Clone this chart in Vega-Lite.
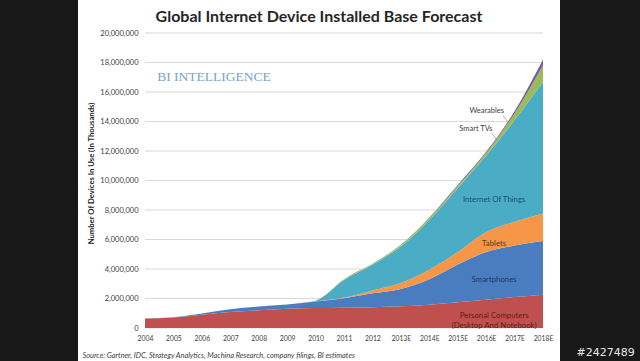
{
  "$schema": "https://vega.github.io/schema/vega-lite/v6.json",
  "width": 482,
  "height": 361,
  "autosize": {"type": "none"},
  "padding": {"left": 78, "right": 80, "top": 0, "bottom": 0},
  "background": "#181818",
  "config": {
    "view": {"fill": "white", "stroke": null},
    "font": "Lato",
    "axis": {"labelOverlap": false, "labelFlush": false}
  },
  "title": {
    "text": "Global Internet Device Installed Base Forecast",
    "font": "Lato",
    "fontSize": 16,
    "fontWeight": "bold",
    "color": "#262626",
    "anchor": "middle",
    "frame": "group",
    "offset": -25
  },
  "datasets": {
    "devices": [
      {"year": 2004, "Personal Computers": 650000, "Smartphones": 0, "Tablets": 0, "Internet Of Things": 0, "Smart TVs": 0, "Wearables": 0},
      {"year": 2005, "Personal Computers": 720000, "Smartphones": 10000, "Tablets": 0, "Internet Of Things": 0, "Smart TVs": 0, "Wearables": 0},
      {"year": 2006, "Personal Computers": 900000, "Smartphones": 80000, "Tablets": 0, "Internet Of Things": 0, "Smart TVs": 0, "Wearables": 0},
      {"year": 2007, "Personal Computers": 1080000, "Smartphones": 190000, "Tablets": 0, "Internet Of Things": 0, "Smart TVs": 0, "Wearables": 0},
      {"year": 2008, "Personal Computers": 1200000, "Smartphones": 250000, "Tablets": 0, "Internet Of Things": 0, "Smart TVs": 0, "Wearables": 0},
      {"year": 2009, "Personal Computers": 1300000, "Smartphones": 300000, "Tablets": 0, "Internet Of Things": 0, "Smart TVs": 0, "Wearables": 0},
      {"year": 2010, "Personal Computers": 1350000, "Smartphones": 450000, "Tablets": 0, "Internet Of Things": 50000, "Smart TVs": 0, "Wearables": 0},
      {"year": 2011, "Personal Computers": 1380000, "Smartphones": 640000, "Tablets": 40000, "Internet Of Things": 1190000, "Smart TVs": 50000, "Wearables": 0},
      {"year": 2012, "Personal Computers": 1400000, "Smartphones": 950000, "Tablets": 200000, "Internet Of Things": 1730000, "Smart TVs": 70000, "Wearables": 10000},
      {"year": 2013, "Personal Computers": 1470000, "Smartphones": 1180000, "Tablets": 400000, "Internet Of Things": 2470000, "Smart TVs": 100000, "Wearables": 30000},
      {"year": 2014, "Personal Computers": 1580000, "Smartphones": 1720000, "Tablets": 650000, "Internet Of Things": 3380000, "Smart TVs": 120000, "Wearables": 50000},
      {"year": 2015, "Personal Computers": 1740000, "Smartphones": 2560000, "Tablets": 850000, "Internet Of Things": 4330000, "Smart TVs": 150000, "Wearables": 70000},
      {"year": 2016, "Personal Computers": 1920000, "Smartphones": 3230000, "Tablets": 1350000, "Internet Of Things": 5170000, "Smart TVs": 200000, "Wearables": 80000},
      {"year": 2017, "Personal Computers": 2100000, "Smartphones": 3500000, "Tablets": 1600000, "Internet Of Things": 6900000, "Smart TVs": 450000, "Wearables": 150000},
      {"year": 2018, "Personal Computers": 2260000, "Smartphones": 3640000, "Tablets": 1860000, "Internet Of Things": 8940000, "Smart TVs": 1100000, "Wearables": 400000}
    ],
    "grid": [
      {"value": 0}, {"value": 2000000}, {"value": 4000000}, {"value": 6000000},
      {"value": 8000000}, {"value": 10000000}, {"value": 12000000}, {"value": 14000000},
      {"value": 16000000}, {"value": 18000000}, {"value": 20000000}
    ]
  },
  "layer": [
    {
      "data": {"name": "grid"},
      "mark": {"type": "rule", "color": "#D9D9D9", "strokeWidth": 1},
      "encoding": {
        "y": {"field": "value", "type": "quantitative"},
        "x": {"datum": 2004, "type": "quantitative"},
        "x2": {"datum": 2018}
      }
    },
    {
      "data": {"name": "devices"},
      "transform": [
        {"fold": ["Personal Computers", "Smartphones", "Tablets", "Internet Of Things", "Smart TVs", "Wearables"], "as": ["device", "value"]},
        {"calculate": "indexof(['Personal Computers','Smartphones','Tablets','Internet Of Things','Smart TVs','Wearables'], datum.device)", "as": "k"}
      ],
      "mark": {"type": "area", "interpolate": "monotone"},
      "encoding": {
        "x": {
          "field": "year",
          "type": "quantitative",
          "scale": {"domain": [2001.643, 2018.598], "nice": false, "zero": false},
          "axis": {
            "values": [2004, 2005, 2006, 2007, 2008, 2009, 2010, 2011, 2012, 2013, 2014, 2015, 2016, 2017, 2018],
            "tickCount": 40,
            "labelExpr": "datum.value >= 2013 ? datum.value + 'E' : '' + datum.value",
            "offset": -33,
            "domain": false,
            "ticks": false,
            "tickSize": 0,
            "grid": false,
            "labelPadding": 7,
            "labelFont": "Lato",
            "labelFontSize": 6.8,
            "labelColor": "#404040",
            "labelFlush": false,
            "labelOverlap": false,
            "title": "Source: Gartner, IDC, Strategy Analytics, Machina Research, company filings, BI estimates",
            "titleFont": "Lato",
            "titleFontSize": 7.4,
            "titleFontStyle": "italic",
            "titleFontWeight": "normal",
            "titleColor": "#404040",
            "titleX": 4,
            "titleY": 27,
            "titleAlign": "left",
            "titleBaseline": "middle"
          }
        },
        "y": {
          "field": "value",
          "type": "quantitative",
          "stack": "zero",
          "scale": {"domain": [-2237288, 22237288], "nice": false, "zero": false},
          "axis": {
            "values": [0, 2000000, 4000000, 6000000, 8000000, 10000000, 12000000, 14000000, 16000000, 18000000, 20000000],
            "tickCount": 40,
            "format": ",d",
            "offset": -67,
            "domain": false,
            "ticks": false,
            "tickSize": 0,
            "grid": false,
            "labelPadding": 7,
            "labelFont": "Lato",
            "labelFontSize": 7.5,
            "labelColor": "#404040",
            "labelFlush": false,
            "labelOverlap": false,
            "title": "Number Of Devices In Use (In Thousands)",
            "titleFont": "Lato",
            "titleFontSize": 7.7,
            "titleFontWeight": "bold",
            "titleColor": "#262626",
            "titleX": -54,
            "titleY": 173,
            "titleAngle": 270,
            "titleAlign": "center",
            "titleBaseline": "middle"
          }
        },
        "color": {
          "field": "device",
          "type": "nominal",
          "scale": {
            "domain": ["Personal Computers", "Smartphones", "Tablets", "Internet Of Things", "Smart TVs", "Wearables"],
            "range": ["#C0504D", "#4A7DBF", "#F79646", "#4BACC6", "#9BBB59", "#7A5FA0"]
          },
          "legend": null
        },
        "order": {"field": "k", "type": "quantitative"}
      }
    },
    {
      "data": {"name": "devices"},
      "transform": [
        {"filter": "datum.year == 2016"},
        {"fold": ["Personal Computers", "Smartphones", "Tablets", "Internet Of Things", "Smart TVs", "Wearables"], "as": ["device", "value"]},
        {"calculate": "indexof(['Personal Computers','Smartphones','Tablets','Internet Of Things','Smart TVs','Wearables'], datum.device)", "as": "k"},
        {"stack": "value", "groupby": ["year"], "sort": [{"field": "k", "order": "ascending"}], "as": ["v0", "v1"]},
        {"filter": "datum.k < 4"},
        {"calculate": "datum.v0 + 0.42 * (datum.v1 - datum.v0)", "as": "mid"},
        {"calculate": "datum.device == 'Personal Computers' ? 'Personal Computers\\n(Desktop And Notebook)' : datum.device", "as": "label"}
      ],
      "mark": {"type": "text", "font": "Lato", "fontSize": 7.8, "dx": 8, "lineBreak": "\n", "lineHeight": 10},
      "encoding": {
        "x": {"field": "year", "type": "quantitative"},
        "y": {"field": "mid", "type": "quantitative"},
        "text": {"field": "label", "type": "nominal"},
        "color": {
          "field": "device",
          "type": "nominal",
          "scale": {
            "domain": ["Personal Computers", "Smartphones", "Tablets", "Internet Of Things"],
            "range": ["#5B1F1D", "#1F3864", "#5C3A12", "#1B4F72"]
          },
          "legend": null
        }
      }
    },
    {
      "data": {"values": [{"label": "Wearables"}]},
      "mark": {"type": "text", "font": "Lato", "fontSize": 7.5, "color": "#404040"},
      "encoding": {
        "x": {"datum": 2016.02, "type": "quantitative"},
        "y": {"datum": 14710000, "type": "quantitative"},
        "text": {"field": "label", "type": "nominal"}
      }
    },
    {
      "data": {"values": [{"label": "Smart TVs"}]},
      "mark": {"type": "text", "font": "Lato", "fontSize": 7.5, "color": "#404040"},
      "encoding": {
        "x": {"datum": 2015.64, "type": "quantitative"},
        "y": {"datum": 13470000, "type": "quantitative"},
        "text": {"field": "label", "type": "nominal"}
      }
    },
    {
      "data": {"values": [{"label": "Wearables"}]},
      "mark": {"type": "rule", "color": "#8C8C8C", "strokeWidth": 0.7},
      "encoding": {
        "x": {"datum": 2016.59, "type": "quantitative"},
        "x2": {"datum": 2016.8},
        "y": {"datum": 14400000, "type": "quantitative"},
        "y2": {"datum": 13900000}
      }
    },
    {
      "data": {"values": [{"label": "Smart TVs"}]},
      "mark": {"type": "rule", "color": "#8C8C8C", "strokeWidth": 0.7},
      "encoding": {
        "x": {"datum": 2016.19, "type": "quantitative"},
        "x2": {"datum": 2016.38},
        "y": {"datum": 13250000, "type": "quantitative"},
        "y2": {"datum": 12750000}
      }
    },
    {
      "data": {"values": [{"label": "BI INTELLIGENCE"}]},
      "mark": {"type": "text", "font": "Liberation Serif", "fontSize": 13.5, "color": "#7AA3C6", "align": "left", "baseline": "middle"},
      "encoding": {
        "x": {"datum": 2004.43, "type": "quantitative"},
        "y": {"datum": 17020000, "type": "quantitative"},
        "text": {"field": "label", "type": "nominal"}
      }
    },
    {
      "data": {"values": [{"label": "#2427489"}]},
      "mark": {"type": "text", "font": "DejaVu Sans", "fontSize": 11, "color": "#E8E8E8", "align": "center", "baseline": "middle"},
      "encoding": {
        "x": {"datum": 2020.2, "type": "quantitative"},
        "y": {"datum": -1700000, "type": "quantitative"},
        "text": {"field": "label", "type": "nominal"}
      }
    }
  ],
  "resolve": {"scale": {"color": "independent"}}
}
